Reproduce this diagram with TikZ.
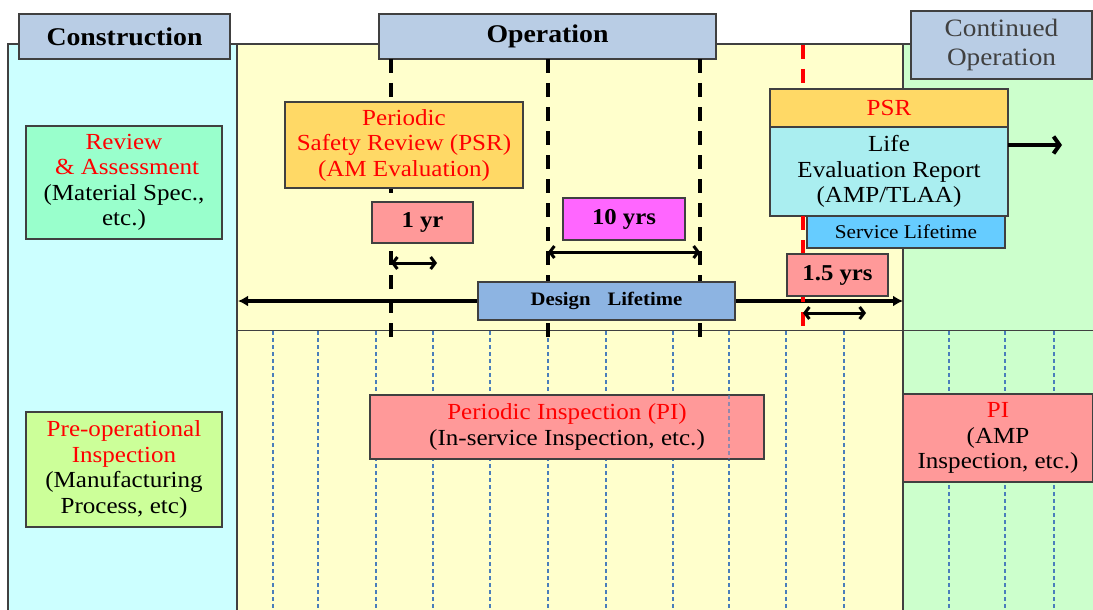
\documentclass[tikz,border=0pt]{standalone}
\usepackage{fontspec}
\setmainfont{Liberation Serif}[FakeStretch=1.09]
\usetikzlibrary{arrows.meta}

\definecolor{cyanbg}{HTML}{CCFFFF}
\definecolor{yellowbg}{HTML}{FFFFCC}
\definecolor{greenbg}{HTML}{CCFFCC}
\definecolor{headblue}{HTML}{B9CDE5}
\definecolor{psrorange}{HTML}{FFD966}
\definecolor{pinkbox}{HTML}{FF9999}
\definecolor{magentabox}{HTML}{FF66FF}
\definecolor{mintbox}{HTML}{99FFCC}
\definecolor{limebox}{HTML}{CCFF99}
\definecolor{designblue}{HTML}{8DB4E2}
\definecolor{lifecyan}{HTML}{AAEEF0}
\definecolor{serviceblue}{HTML}{66CCFF}
\definecolor{edgegrey}{HTML}{404040}
\definecolor{gridblue}{HTML}{4A7EBB}
\definecolor{darktext}{HTML}{404040}

\tikzset{
  box/.style={draw=edgegrey, line width=1.2pt, rectangle, inner sep=0pt,
    outer sep=0pt, align=center, text=black},
  body/.style={font=\fontsize{23}{25.5}\selectfont},
  boldlabel/.style={font=\fontsize{22.7}{26}\selectfont\bfseries},
  header/.style={box, fill=headblue, font=\fontsize{25.5}{29}\selectfont\bfseries},
  paneledge/.style={draw=edgegrey, line width=1.2pt},
  phasedash/.style={line width=4pt, dash pattern=on 14pt off 10pt},
  griddash/.style={gridblue, line width=1.1pt, dash pattern=on 4pt off 3pt},
  spanarrow/.style={line width=3pt, {Straight Barb[length=4.5pt,width=12pt]}-{Straight Barb[length=4.5pt,width=12pt]}},
  lifearrow/.style={line width=3.4pt, {Latex[length=10pt,width=11pt]}-{Latex[length=10pt,width=11pt]}},
  nextarrow/.style={line width=4pt, -{Straight Barb[length=6pt,width=17pt]}},
}

\begin{document}
\begin{tikzpicture}[x=1pt,y=-1pt]
\useasboundingbox (0,0) rectangle (1093,610);

% phase panels
\fill[cyanbg] (8,44) rectangle (237,610);
\fill[yellowbg] (237,44) rectangle (903,610);
\fill[greenbg] (903,44) rectangle (1093,610);
\draw[paneledge] (8,610) -- (8,44) -- (1093,44);
\draw[paneledge, line width=1.6pt] (237,44) -- (237,610);
\draw[paneledge] (903,44) -- (903,610);
\draw[paneledge, line width=1pt] (237,330) -- (1093,330);

% inspection grid
\foreach \gx in {273,318,376,433,490,548,606,673,729,786,844,949,1005,1054}
  \draw[griddash] (\gx,331) -- (\gx,610);

% headers
\node[header, minimum width=211pt, minimum height=45pt] (construction) at (124.5,36.5) {Construction};
\node[header, minimum width=337pt, minimum height=45pt] (operation) at (547.5,36.5) {Operation};
\node[box, fill=headblue, text=darktext, font=\fontsize{25}{29}\selectfont,
  minimum width=181pt, minimum height=68pt] (continued) at (1001.5,45) {Continued\\Operation};

% PSR milestones
\coordinate (m1top) at (391,59);  \coordinate (m1bot) at (391,337);
\coordinate (m2top) at (548,59);  \coordinate (m2bot) at (548,337);
\coordinate (m3top) at (700,59);  \coordinate (m3bot) at (700,337);
\coordinate (m4top) at (803,45);  \coordinate (m4bot) at (803,332);
\draw[phasedash] (m1top) -- (m1bot);
\draw[phasedash] (m2top) -- (m2bot);
\draw[phasedash] (m3top) -- (m3bot);

% intervals
\coordinate (a1s) at (391,263); \coordinate (a1e) at (437,263);
\coordinate (a10s) at (548,252); \coordinate (a10e) at (700,252);
\coordinate (a15s) at (803,313); \coordinate (a15e) at (866,313);
\coordinate (dls) at (238,301); \coordinate (dle) at (903,301);
\draw[spanarrow] (a1s) -- (a1e);
\draw[spanarrow] (a10s) -- (a10e);
\draw[lifearrow] (dls) -- (dle);

% construction column
\node[box, body, fill=mintbox, minimum width=196pt, minimum height=113pt] (review) at (124,182.5)
  {\textcolor{red}{Review}\\\textcolor{red}{\ \& Assessment}\\(Material Spec.,\\etc.)};
\node[box, body, fill=limebox, minimum width=196pt, minimum height=115pt] (preop) at (124,469.5)
  {\textcolor{red}{Pre-operational}\\\textcolor{red}{Inspection}\\(Manufacturing\\Process, etc)};

% operation column
\node[box, body, fill=psrorange, text=red, minimum width=238pt, minimum height=86pt] (psr) at (404,145)
  {Periodic\\Safety Review (PSR)\\(AM Evaluation)};
\node[box, boldlabel, fill=pinkbox, minimum width=101pt, minimum height=41pt] (oneyr) at (422.5,222.5) {1 yr};
\node[box, boldlabel, fill=magentabox, minimum width=122pt, minimum height=42pt] (tenyrs) at (624,219) {10 yrs};
\node[box, fill=designblue, font=\fontsize{19}{22}\selectfont\bfseries,
  minimum width=257pt, minimum height=38pt] (design) at (606.5,301) {Design\hspace{17pt}Lifetime};
\node[box, body, fill=pinkbox, minimum width=394pt, minimum height=64pt] (pi) at (567,427)
  {\textcolor{red}{Periodic Inspection (PI)}\\(In-service Inspection, etc.)};
\draw[griddash, opacity=0.6] (729,395) -- (729,459);

% license renewal
\node[box, body, fill=psrorange, text=red, minimum width=238pt, minimum height=38pt] (psrlr) at (889,108) {PSR};
\node[box, body, fill=lifecyan, minimum width=238pt, minimum height=89pt] (life) at (889,171.5)
  {Life\\Evaluation Report\\(AMP/TLAA)};
\node[box, fill=serviceblue, font=\fontsize{19.5}{22}\selectfont,
  minimum width=198pt, minimum height=32pt] (service) at (906,232) {Service Lifetime};
\draw[phasedash, red, line width=3.2pt] (m4top) -- (psrlr.north -| m4top);
\draw[phasedash, red, line width=3.2pt] (life.south -| m4top) -- (m4bot);
\node[box, boldlabel, fill=pinkbox, minimum width=101pt, minimum height=42pt] (onefive) at (837.5,275) {1.5 yrs};
\draw[spanarrow] (a15s) -- (a15e);
\coordinate (lifeout) at (1062,145);
\draw[nextarrow] (life.east |- lifeout) -- (lifeout);

% continued operation column
\node[box, body, fill=pinkbox, minimum width=190pt, minimum height=88pt] (picont) at (998,438)
  {\textcolor{red}{PI}\\(AMP\\Inspection, etc.)};
\end{tikzpicture}
\end{document}
